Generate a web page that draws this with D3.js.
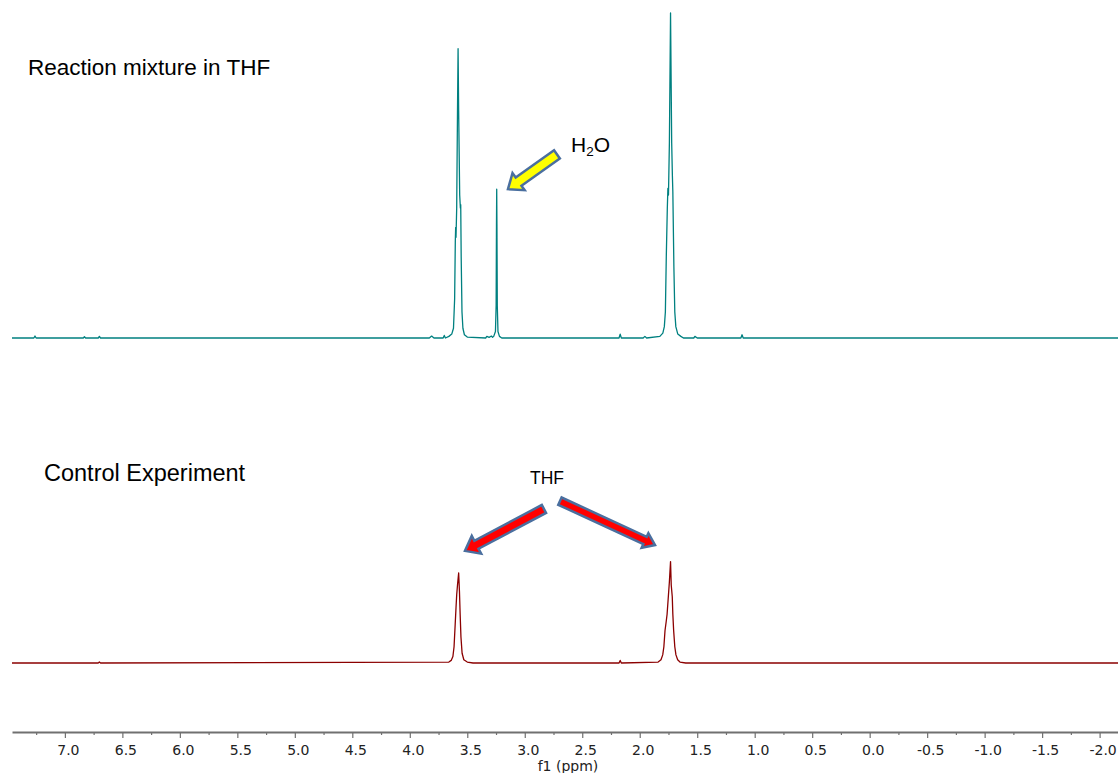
<!DOCTYPE html>
<html>
<head>
<meta charset="utf-8">
<script src="https://cdn.jsdelivr.net/npm/d3@7"></script>
<style>
  html, body { margin: 0; padding: 0; background: #fff; }
  svg { display: block; }
</style>
</head>
<body>
<svg id="chart" width="1118" height="773"></svg>
<script>
// ---------- DATA ----------
// Top spectrum: reaction mixture in THF (ppm, relative intensity)
const topPpm = [7.46, 7.27, 7.26, 7.25, 6.84, 6.83, 6.82, 6.71, 6.70, 6.69,
  3.83, 3.81, 3.79, 3.71, 3.70, 3.69,
  3.66, 3.635, 3.62, 3.61, 3.604, 3.601, 3.598, 3.592, 3.585, 3.580, 3.575, 3.566, 3.560, 3.557, 3.553, 3.546, 3.538, 3.525, 3.50,
  3.34, 3.33, 3.31, 3.29, 3.28,
  3.27, 3.255, 3.249, 3.246, 3.244, 3.242, 3.239, 3.233, 3.22, 3.20,
  2.18, 2.17, 2.16, 1.97, 1.955, 1.94,
  1.825, 1.799, 1.786, 1.777, 1.769, 1.760, 1.755, 1.750, 1.742, 1.732, 1.722, 1.716, 1.712, 1.703, 1.695, 1.686, 1.669, 1.642, 1.62,
  1.53, 1.52, 1.50, 1.12, 1.11, 1.10, -2.16];
const topInt = [0, 0, 0.6, 0, 0, 0.4, 0, 0, 0.5, 0,
  0, 0.6, 0, 0, 0.8, 0,
  0.5, 1.2, 3, 12, 30, 34, 31, 40, 70, 89, 70, 44, 40, 41, 25, 8, 3, 1, 0.3,
  0, 0.5, 0.2, 0.6, 0.2,
  0.5, 2, 10, 35, 45.8, 35, 10, 2, 0.5, 0,
  0, 1.2, 0, 0, 0.5, 0,
  0.5, 1.5, 3.5, 8, 25, 40, 46, 44, 60, 100, 60, 50, 45, 22, 8, 3.5, 1.2, 0.5, 0,
  0, 0.5, 0, 0, 1, 0, 0];

// Bottom spectrum: control experiment
const botPpm = [7.46, 6.71, 6.70, 6.69,
  3.66, 3.64, 3.625, 3.615, 3.605, 3.598, 3.592, 3.585, 3.575, 3.568, 3.562, 3.555, 3.545, 3.53, 3.50, 3.45,
  2.18, 2.17, 2.16,
  1.84, 1.815, 1.80, 1.79, 1.78, 1.770, 1.762, 1.752, 1.742, 1.732, 1.726, 1.717, 1.712, 1.705, 1.695, 1.685, 1.67, 1.65, 1.60,
  -2.16];
const botInt = [0, 0, 0.3, 0,
  0.3, 0.8, 2, 5, 12, 17, 21, 24, 27.7, 22, 15, 8, 3, 1, 0.3, 0,
  0, 0.8, 0,
  0.3, 1, 2.5, 5, 10, 12.7, 15, 20, 25, 31.2, 24, 20.4, 15, 10, 5, 2.5, 1, 0.3, 0,
  0];

// Axis ticks
const majorTicks = [7.0, 6.5, 6.0, 5.5, 5.0, 4.5, 4.0, 3.5, 3.0, 2.5, 2.0, 1.5, 1.0, 0.5, 0.0, -0.5, -1.0, -1.5, -2.0];
const tickLabels = ["7.0", "6.5", "6.0", "5.5", "5.0", "4.5", "4.0", "3.5", "3.0", "2.5", "2.0", "1.5", "1.0", "0.5", "0.0", "-0.5", "-1.0", "-1.5", "-2.0"];
const minorTicks = [7.25, 6.75, 6.25, 5.75, 5.25, 4.75, 4.25, 3.75, 3.25, 2.75, 2.25, 1.75, 1.25, 0.75, 0.25, -0.25, -0.75, -1.25, -1.75];
const axisTitle = "f1 (ppm)";

// Annotations (data coordinates: ppm, intensity on the given spectrum)
const labels = [
  { text: "Reaction mixture in THF", panel: "top" },
  { text: "Control Experiment", panel: "bot" }
];
const arrowsData = [
  { panel: "top", tail: [2.720, 56.5], tip: [3.146, 45.8], fill: "#ffff00" },
  { panel: "bot", tail: [2.833, 47.4], tip: [3.520, 34.5], fill: "#ff0000" },
  { panel: "bot", tail: [2.694, 49.8], tip: [1.867, 36.3], fill: "#ff0000" }
];

// ---------- LAYOUT ----------
const svg = d3.select("#chart");
const x = d3.scaleLinear().domain([7.46, -2.16]).range([12, 1118]);
const yTop = d3.scaleLinear().domain([0, 100]).range([338, 13]);
const yBot = d3.scaleLinear().domain([0, 100]).range([663, 338]);
const axisY = 732;

const lineTop = d3.line().x((d, i) => x(topPpm[i])).y((d, i) => yTop(topInt[i]));
const lineBot = d3.line().x((d, i) => x(botPpm[i])).y((d, i) => yBot(botInt[i]));

svg.append("path").datum(topPpm)
  .attr("d", lineTop)
  .attr("fill", "none")
  .attr("stroke", "#008080")
  .attr("stroke-width", 1.3)
  .attr("stroke-linejoin", "round");

svg.append("path").datum(botPpm)
  .attr("d", lineBot)
  .attr("fill", "none")
  .attr("stroke", "#8b0000")
  .attr("stroke-width", 1.3)
  .attr("stroke-linejoin", "round");

// ---------- AXIS ----------
const gAxis = svg.append("g").attr("transform", `translate(0,${axisY})`);
const axisMajor = d3.axisBottom(x)
  .tickValues(majorTicks)
  .tickSize(6)
  .tickSizeOuter(0)
  .tickPadding(7)
  .tickFormat((d, i) => tickLabels[i]);
gAxis.call(axisMajor);
gAxis.select(".domain").attr("stroke", "#707070").attr("stroke-width", 2);
gAxis.selectAll(".tick line").attr("stroke", "#707070").attr("stroke-width", 1.2);
gAxis.selectAll(".tick text")
  .attr("font-family", "'DejaVu Sans', Verdana, sans-serif")
  .attr("font-size", 14)
  .attr("fill", "#222")
  .attr("dx", 3);

const gMinor = svg.append("g").attr("transform", `translate(0,${axisY})`);
gMinor.call(d3.axisBottom(x).tickValues(minorTicks).tickSize(3).tickSizeOuter(0).tickFormat(""));
gMinor.select(".domain").remove();
gMinor.selectAll(".tick line").attr("stroke", "#707070").attr("stroke-width", 1.2);

svg.append("text")
  .attr("x", 568).attr("y", 771)
  .attr("text-anchor", "middle")
  .attr("font-family", "'DejaVu Sans', Verdana, sans-serif")
  .attr("font-size", 14)
  .attr("fill", "#222")
  .text(axisTitle);

// ---------- TEXT LABELS ----------
svg.append("text").attr("x", 28).attr("y", 75)
  .attr("font-family", "'Liberation Sans', Arial, sans-serif")
  .attr("font-size", 22.5).attr("fill", "#000")
  .text(labels[0].text);
svg.append("text").attr("x", 44).attr("y", 481)
  .attr("font-family", "'Liberation Sans', Arial, sans-serif")
  .attr("font-size", 23.5).attr("fill", "#000")
  .text(labels[1].text);

const h2o = svg.append("text").attr("x", 571).attr("y", 152)
  .attr("font-family", "'Liberation Sans', Arial, sans-serif")
  .attr("font-size", 21).attr("fill", "#000");
h2o.append("tspan").text("H");
h2o.append("tspan").attr("font-size", 13.5).attr("dy", 4).text("2");
h2o.append("tspan").attr("dy", -4).text("O");

svg.append("text").attr("x", 530).attr("y", 484)
  .attr("font-family", "'Liberation Sans', Arial, sans-serif")
  .attr("font-size", 17.5).attr("fill", "#000")
  .text("THF");

// ---------- ARROWS ----------
function arrowPath(t, p, bodyHalf, headHalf, headLen) {
  const dx = p[0] - t[0], dy = p[1] - t[1];
  const L = Math.hypot(dx, dy);
  const ux = dx / L, uy = dy / L;
  const nx = -uy, ny = ux;
  const bx = t[0] + ux * (L - headLen), by = t[1] + uy * (L - headLen);
  const pts = [
    [t[0] + nx * bodyHalf, t[1] + ny * bodyHalf],
    [bx + nx * bodyHalf, by + ny * bodyHalf],
    [bx + nx * headHalf, by + ny * headHalf],
    [p[0], p[1]],
    [bx - nx * headHalf, by - ny * headHalf],
    [bx - nx * bodyHalf, by - ny * bodyHalf],
    [t[0] - nx * bodyHalf, t[1] - ny * bodyHalf]
  ];
  return "M" + pts.map(q => q.join(",")).join("L") + "Z";
}
const arrowSizes = [
  { body: 5, head: 10.5, len: 13 },
  { body: 4.5, head: 10, len: 13 },
  { body: 4, head: 8, len: 11 }
];
arrowsData.forEach((a, i) => {
  const ys = a.panel === "top" ? yTop : yBot;
  const t = [x(a.tail[0]), ys(a.tail[1])];
  const p = [x(a.tip[0]), ys(a.tip[1])];
  const s = arrowSizes[i];
  svg.append("path")
    .attr("d", arrowPath(t, p, s.body, s.head, s.len))
    .attr("fill", a.fill)
    .attr("stroke", "#4a6f9f")
    .attr("stroke-width", 2.5)
    .attr("stroke-linejoin", "miter");
});
</script>
</body>
</html>
